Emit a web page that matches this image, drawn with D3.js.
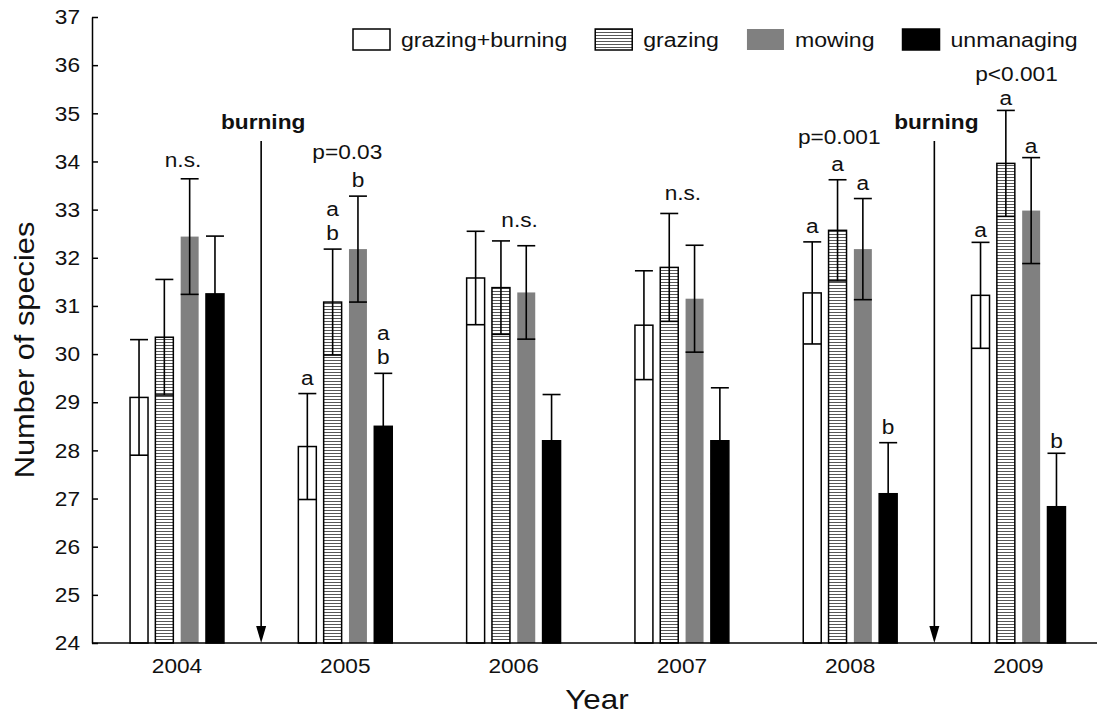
<!DOCTYPE html>
<html>
<head>
<meta charset="utf-8">
<script src="https://cdn.jsdelivr.net/npm/d3@7"></script>
<style>
  html, body { margin: 0; padding: 0; background: #fff; }
  svg { display: block; font-family: "Liberation Sans", Arial, sans-serif; }
</style>
</head>
<body>
<svg id="chart" width="1097" height="714"></svg>
<script>
// ---- data ----
const years = ["2004", "2005", "2006", "2007", "2008", "2009"];
const seriesNames = ["grazing+burning", "grazing", "mowing", "unmanaging"];
const grazingBurning   = [29.10, 28.08, 31.58, 30.60, 31.27, 31.22];
const grazing          = [30.35, 31.08, 31.38, 31.80, 32.57, 33.96];
const mowing           = [32.44, 32.18, 31.28, 31.15, 32.18, 32.98];
const unmanaging       = [31.25, 28.50, 28.20, 28.20, 27.10, 26.83];
const grazingBurningSE = [1.20, 1.10, 0.97, 1.13, 1.06, 1.10];
const grazingSE        = [1.20, 1.10, 0.97, 1.12, 1.05, 1.10];
const mowingSE         = [1.20, 1.10, 0.97, 1.11, 1.05, 1.10];
const unmanagingSE     = [1.20, 1.10, 0.96, 1.10, 1.06, 1.11];
const yTicks = [24, 25, 26, 27, 28, 29, 30, 31, 32, 33, 34, 35, 36, 37];
const sigLabels = ["n.s.", "p=0.03", "n.s.", "n.s.", "p=0.001", "p<0.001"];
const groupLetters = [[], ["a", "ab", "b", "ab"], [], [], ["a", "a", "a", "b"], ["a", "a", "a", "b"]];
const burningLabel = "burning";
const burningAfter = ["2004", "2008"]; // burning arrows between these years and the next

// ---- layout ----
const svg = d3.select("#chart");
const W = 1097, H = 714;
const plotLeft = 92, plotBottom = 643, plotTop = 17;
const stepGuess = 168.3;
const firstCenter = 177;
const FONT = 21;
const SX = 1.08; // horizontal stretch of the reference lettering
const LINE = 24;

const x0 = d3.scaleBand().domain(years)
  .range([firstCenter - stepGuess / 2, firstCenter + stepGuess * (years.length - 0.5)])
  .paddingInner(0.442).paddingOuter(0.221);
const x1 = d3.scaleBand().domain(seriesNames).range([0, x0.bandwidth()]).paddingInner(0.29);
const y = d3.scaleLinear().domain([24, 37]).range([plotBottom, plotTop]);

const means = [grazingBurning, grazing, mowing, unmanaging];
const ses = [grazingBurningSE, grazingSE, mowingSE, unmanagingSE];
const fills = ["#ffffff", "url(#hatch)", "#808080", "#000000"];
const strokes = ["#000", "#000", "none", "#000"];

function label(parent, x, yy, txt, size, opts = {}) {
  const t = parent.append("text")
    .attr("transform", `translate(${x},${yy}) scale(${opts.sx || SX},1)`)
    .attr("text-anchor", opts.anchor || "middle")
    .attr("font-size", size).attr("fill", "#111").text(txt);
  if (opts.bold) t.attr("font-weight", "bold");
  return t;
}

// hatch pattern
const defs = svg.append("defs");
const pat = defs.append("pattern").attr("id", "hatch").attr("patternUnits", "userSpaceOnUse")
  .attr("width", 6).attr("height", 3);
pat.append("rect").attr("width", 6).attr("height", 3).attr("fill", "#fff");
pat.append("line").attr("x1", 0).attr("x2", 6).attr("y1", 0.5).attr("y2", 0.5)
  .attr("stroke", "#444").attr("stroke-width", 0.9);

const rows = [];
years.forEach((yr, gi) => {
  seriesNames.forEach((s, si) => {
    rows.push({ year: yr, gi, series: s, si, mean: means[si][gi], se: ses[si][gi] });
  });
});

// bars
const g = svg.append("g");
g.selectAll("rect.bar").data(rows).join("rect")
  .attr("class", "bar")
  .attr("x", d => x0(d.year) + x1(d.series))
  .attr("width", x1.bandwidth())
  .attr("y", d => y(d.mean))
  .attr("height", d => y(24) - y(d.mean))
  .attr("fill", d => fills[d.si])
  .attr("stroke", d => strokes[d.si])
  .attr("stroke-width", 1.5);

// error bars
const eb = g.selectAll("g.err").data(rows).join("g").attr("class", "err")
  .attr("stroke", "#000").attr("stroke-width", 1.6);
eb.append("line")
  .attr("x1", d => x0(d.year) + x1(d.series) + x1.bandwidth() / 2)
  .attr("x2", d => x0(d.year) + x1(d.series) + x1.bandwidth() / 2)
  .attr("y1", d => y(d.mean - d.se)).attr("y2", d => y(d.mean + d.se));
eb.append("line")
  .attr("x1", d => x0(d.year) + x1(d.series)).attr("x2", d => x0(d.year) + x1(d.series) + x1.bandwidth())
  .attr("y1", d => y(d.mean + d.se)).attr("y2", d => y(d.mean + d.se));
eb.append("line")
  .attr("x1", d => x0(d.year) + x1(d.series)).attr("x2", d => x0(d.year) + x1(d.series) + x1.bandwidth())
  .attr("y1", d => y(d.mean - d.se)).attr("y2", d => y(d.mean - d.se));

// letters (stacked letters one above the other)
const letterGap = [9, 9, 9, 9, 9, 5];
rows.forEach(d => {
  const lt = groupLetters[d.gi][d.si];
  if (!lt) return;
  const cx = x0(d.year) + x1(d.series) + x1.bandwidth() / 2;
  const base = y(d.mean + d.se) - letterGap[d.gi];
  const chars = lt.split("");
  chars.forEach((c, k) => {
    label(svg, cx, base - (chars.length - 1 - k) * LINE, c, 21);
  });
});

// significance labels
const sigDx = [6, 2, 6, 1, -11, -2];
const sigGap = [12, 18, 4, 13, 17, 14];
sigLabels.forEach((lab, gi) => {
  const yr = years[gi];
  let top = Infinity;
  rows.filter(r => r.gi === gi).forEach(r => {
    let t = y(r.mean + r.se);
    const lt = groupLetters[gi][r.si];
    if (lt) t = t - letterGap[gi] - (lt.length - 1) * LINE - 10;
    top = Math.min(top, t);
  });
  label(svg, x0(yr) + x0.bandwidth() / 2 + sigDx[gi], top - sigGap[gi], lab, 21);
});

// burning arrows
burningAfter.forEach(yr => {
  const i = years.indexOf(yr);
  const ax = (x0(years[i]) + x0(years[i + 1]) + x0.bandwidth()) / 2;
  svg.append("line").attr("x1", ax).attr("x2", ax).attr("y1", 141).attr("y2", plotBottom - 8)
    .attr("stroke", "#000").attr("stroke-width", 1.6);
  svg.append("path")
    .attr("d", `M${ax - 5},${plotBottom - 17} L${ax + 5},${plotBottom - 17} L${ax},${plotBottom} Z`)
    .attr("fill", "#000");
  label(svg, ax + 2, 129, burningLabel, 21, { bold: true });
});

// axes
const yAxis = d3.axisLeft(y).tickValues(yTicks).tickFormat(d3.format("d"))
  .tickSizeInner(-6).tickSizeOuter(0).tickPadding(12);
const ya = svg.append("g").attr("transform", `translate(${plotLeft},0)`).call(yAxis);
ya.selectAll("text").attr("font-size", FONT).attr("fill", "#111")
  .attr("font-family", "Liberation Sans, Arial, sans-serif")
  .attr("x", -12 / SX).attr("transform", `scale(${SX},1)`);
ya.selectAll("line, path").attr("stroke", "#000").attr("stroke-width", 1.5);

const xAxis = d3.axisBottom(x0).tickSize(0).tickPadding(15);
const xa = svg.append("g").attr("transform", `translate(0,${plotBottom})`).call(xAxis);
xa.select("path.domain").attr("d", `M${plotLeft},0H${W}`);
xa.selectAll("text").attr("font-size", FONT).attr("fill", "#111")
  .attr("font-family", "Liberation Sans, Arial, sans-serif").attr("transform", `scale(${SX},1)`);
xa.selectAll("line, path").attr("stroke", "#000").attr("stroke-width", 1.5);

// axis titles
svg.append("text").attr("transform", "translate(34,350) rotate(-90) scale(1.1,1)")
  .attr("text-anchor", "middle").attr("font-size", 28).attr("fill", "#111").text("Number of species");
label(svg, 597, 709, "Year", 28, { sx: 1.12 });

// legend
const leg = svg.append("g").attr("transform", "translate(353,29)");
let lx = 0;
seriesNames.forEach((s, si) => {
  const it = leg.append("g").attr("transform", `translate(${lx},0)`);
  it.append("rect").attr("width", 37).attr("height", 21)
    .attr("fill", fills[si]).attr("stroke", si === 2 ? "none" : "#000").attr("stroke-width", 1.5);
  const t = label(it, 48, 18, s, 21, { anchor: "start", sx: 1.1 });
  const w = t.node().getComputedTextLength() * 1.1;
  lx += 48 + w + 28;
});
</script>
</body>
</html>
